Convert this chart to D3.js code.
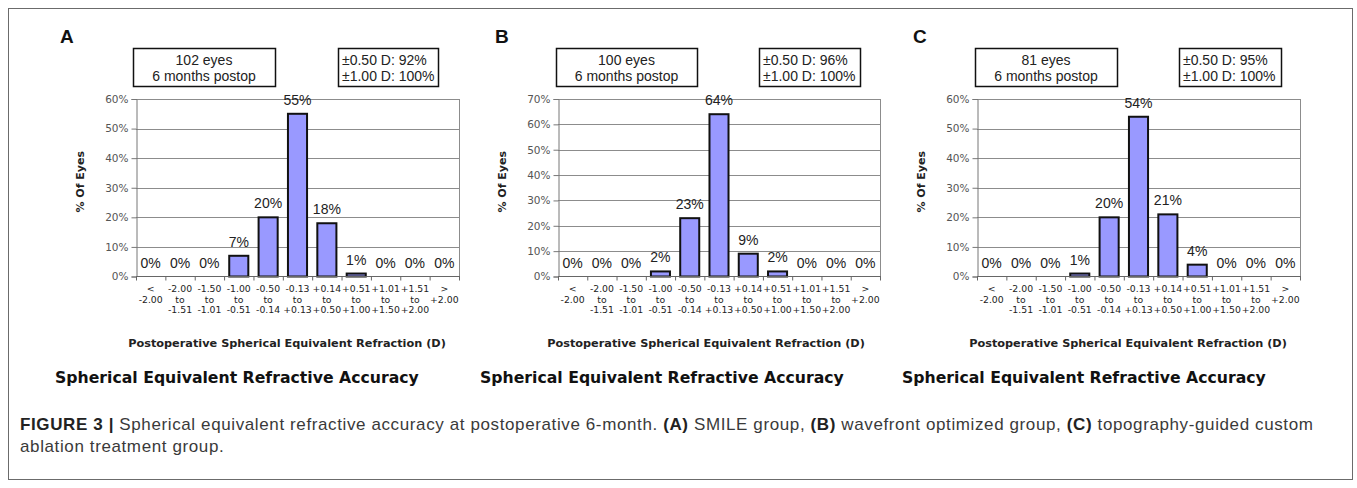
<!DOCTYPE html>
<html>
<head>
<meta charset="utf-8">
<script src="https://cdn.jsdelivr.net/npm/d3@7"></script>
<style>
  html, body { margin: 0; padding: 0; background: #fff; }
  svg { display: block; }
</style>
</head>
<body>
<svg id="chart" width="1357" height="488"></svg>
<script>
// ---------- DATA ----------
const categories = [
  ["<", "-2.00"],
  ["-2.00", "to", "-1.51"],
  ["-1.50", "to", "-1.01"],
  ["-1.00", "to", "-0.51"],
  ["-0.50", "to", "-0.14"],
  ["-0.13", "to", "+0.13"],
  ["+0.14", "to", "+0.50"],
  ["+0.51", "to", "+1.00"],
  ["+1.01", "to", "+1.50"],
  ["+1.51", "to", "+2.00"],
  [">", "+2.00"]
];
const panelLetters = ["A", "B", "C"];
const valuesA = [0, 0, 0, 7, 20, 55, 18, 1, 0, 0, 0];
const valuesB = [0, 0, 0, 2, 23, 64, 9, 2, 0, 0, 0];
const valuesC = [0, 0, 0, 1, 20, 54, 21, 4, 0, 0, 0];
const yTicksA = [0, 10, 20, 30, 40, 50, 60];
const yTicksB = [0, 10, 20, 30, 40, 50, 60, 70];
const yTicksC = [0, 10, 20, 30, 40, 50, 60];
const eyesText = ["102 eyes", "100 eyes", "81 eyes"];
const postopText = "6 months postop";
const within050 = ["\u00b10.50 D: 92%", "\u00b10.50 D: 96%", "\u00b10.50 D: 95%"];
const within100 = ["\u00b11.00 D: 100%", "\u00b11.00 D: 100%", "\u00b11.00 D: 100%"];
const yAxisTitle = "% Of Eyes";
const xAxisTitle = "Postoperative Spherical Equivalent Refraction (D)";
const panelTitle = "Spherical Equivalent Refractive Accuracy";

// ---------- LAYOUT ----------
const layouts = [
  { plotL: 136, plotR: 459, letterX: 60, box1: [133, 275], box2: [338, 438], xTitleC: 287, titleX: 55 },
  { plotL: 558, plotR: 880, letterX: 495, box1: [556, 697], box2: [759, 860], xTitleC: 706, titleX: 480 },
  { plotL: 977, plotR: 1300, letterX: 913, box1: [975, 1117], box2: [1179, 1281], xTitleC: 1128, titleX: 902 }
];
const allValues = [valuesA, valuesB, valuesC];
const allTicks = [yTicksA, yTicksB, yTicksC];
const plotTop = 99, plotBottom = 276.5;

const svg = d3.select("#chart");

// outer frame
svg.append("rect").attr("x", 8.5).attr("y", 8.5).attr("width", 1344).attr("height", 471)
  .attr("fill", "none").attr("stroke", "#6b6b6b").attr("stroke-width", 1);

function fitWidth(sel, target) {
  const w = sel.node().getComputedTextLength();
  const fs = parseFloat(sel.attr("font-size"));
  sel.attr("font-size", (fs * target / w).toFixed(2));
}

layouts.forEach((L, p) => {
  const vals = allValues[p];
  const ticks = allTicks[p];
  const g = svg.append("g");

  const x = d3.scaleBand().domain(d3.range(categories.length))
    .range([L.plotL, L.plotR]).paddingInner(0.35).paddingOuter(0.175);
  const y = d3.scaleLinear().domain([0, d3.max(ticks)]).range([plotBottom, plotTop]);
  const step = x.step();

  // panel letter
  g.append("text").attr("x", L.letterX).attr("y", 43)
    .attr("font-family", "Liberation Sans, Arial, sans-serif").attr("font-weight", "bold")
    .attr("font-size", 19).attr("fill", "#111").text(panelLetters[p]);

  // info boxes
  const boxY = 48.5, boxH = 38;
  g.append("rect").attr("x", L.box1[0] + 0.5).attr("y", boxY).attr("width", L.box1[1] - L.box1[0]).attr("height", boxH)
    .attr("fill", "#fff").attr("stroke", "#111").attr("stroke-width", 1.5);
  const cx = (L.box1[0] + L.box1[1]) / 2;
  [eyesText[p], postopText].forEach((t, i) => {
    g.append("text").attr("x", cx).attr("y", 65 + i * 16).attr("text-anchor", "middle")
      .attr("font-family", "Liberation Sans, Arial, sans-serif").attr("font-size", 14)
      .attr("fill", "#222").text(t);
  });
  g.append("rect").attr("x", L.box2[0] + 0.5).attr("y", boxY).attr("width", L.box2[1] - L.box2[0]).attr("height", boxH)
    .attr("fill", "#fff").attr("stroke", "#111").attr("stroke-width", 1.5);
  [within050[p], within100[p]].forEach((t, i) => {
    g.append("text").attr("x", L.box2[0] + 4).attr("y", 65 + i * 16)
      .attr("font-family", "Liberation Sans, Arial, sans-serif").attr("font-size", 14)
      .attr("fill", "#222").text(t);
  });

  // gridlines
  g.append("g").selectAll("line").data(ticks.filter(t => t > 0)).join("line")
    .attr("x1", L.plotL).attr("x2", L.plotR)
    .attr("y1", d => Math.round(y(d)) + 0.5).attr("y2", d => Math.round(y(d)) + 0.5)
    .attr("stroke", "#8c8c8c").attr("stroke-width", 1);
  // plot border right
  g.append("line").attr("x1", L.plotR + 0.5).attr("x2", L.plotR + 0.5).attr("y1", y(d3.max(ticks))).attr("y2", plotBottom)
    .attr("stroke", "#8c8c8c").attr("stroke-width", 1);

  // y axis
  const yAxis = d3.axisLeft(y).tickValues(ticks).tickFormat(d => d + "%").tickSize(5).tickPadding(3);
  const ya = g.append("g").attr("transform", `translate(${L.plotL + 0.5},0)`).call(yAxis);
  ya.select(".domain").attr("stroke", "#777");
  ya.selectAll(".tick line").attr("stroke", "#777");
  ya.selectAll(".tick text").attr("font-family", "DejaVu Sans, Verdana, sans-serif")
    .attr("font-size", 10.5).attr("fill", "#555");

  // bars
  g.append("g").selectAll("rect").data(vals).join("rect")
    .attr("x", (d, i) => x(i)).attr("width", x.bandwidth())
    .attr("y", d => y(d)).attr("height", d => plotBottom - y(d))
    .attr("fill", "#9999ff").attr("stroke", "#111").attr("stroke-width", 2)
    .style("display", d => d > 0 ? null : "none");

  // x axis line
  g.append("line").attr("x1", L.plotL).attr("x2", L.plotR + 1).attr("y1", plotBottom).attr("y2", plotBottom)
    .attr("stroke", "#666").attr("stroke-width", 1.2);
  // category boundary ticks
  g.append("g").selectAll("line").data(d3.range(categories.length + 1)).join("line")
    .attr("x1", i => L.plotL + i * step + 0.5).attr("x2", i => L.plotL + i * step + 0.5)
    .attr("y1", plotBottom).attr("y2", plotBottom + 4)
    .attr("stroke", "#666").attr("stroke-width", 1);

  // value labels
  g.append("g").selectAll("text").data(vals).join("text")
    .attr("x", (d, i) => x(i) + x.bandwidth() / 2).attr("y", d => y(d) - 9)
    .attr("text-anchor", "middle").attr("font-family", "Liberation Sans, Arial, sans-serif")
    .attr("font-size", 14).attr("fill", "#222").text(d => d + "%");

  // category labels
  const cl = g.append("g").selectAll("text").data(categories).join("text")
    .attr("text-anchor", "middle").attr("font-family", "DejaVu Sans, Verdana, sans-serif")
    .attr("font-size", 9.3).attr("fill", "#222");
  cl.each(function (lines, i) {
    const t = d3.select(this);
    lines.forEach((ln, k) => {
      t.append("tspan").attr("x", x(i) + x.bandwidth() / 2).attr("y", 292 + k * 10.5).text(ln);
    });
  });

  // y axis title
  g.append("text").attr("transform", `translate(${L.plotL - 52},${(plotTop + plotBottom) / 2 - 6}) rotate(-90)`)
    .attr("text-anchor", "middle").attr("font-family", "DejaVu Sans, Verdana, sans-serif")
    .attr("font-weight", "bold").attr("font-size", 11).attr("fill", "#222").text(yAxisTitle);

  // x axis title
  const xt = g.append("text").attr("x", L.xTitleC).attr("y", 347).attr("text-anchor", "middle")
    .attr("font-family", "DejaVu Sans, Verdana, sans-serif").attr("font-weight", "bold")
    .attr("font-size", 10).attr("fill", "#222").text(xAxisTitle);
  fitWidth(xt, 318);

  // panel title
  const pt = g.append("text").attr("x", L.titleX).attr("y", 383)
    .attr("font-family", "DejaVu Sans, Verdana, sans-serif").attr("font-weight", "bold")
    .attr("font-size", 14).attr("fill", "#111").text(panelTitle);
  fitWidth(pt, 364);
});

// caption
const capSize = 17;
const cap1 = svg.append("text").attr("x", 20).attr("y", 430)
  .attr("font-family", "Liberation Sans, Arial, sans-serif").attr("font-size", capSize).attr("fill", "#3a3a3a");
const capParts = [
  ["FIGURE 3 |", true], [" Spherical equivalent refractive accuracy at postoperative 6-month. ", false],
  ["(A)", true], [" SMILE group, ", false], ["(B)", true], [" wavefront optimized group, ", false],
  ["(C)", true], [" topography-guided custom", false]
];
capParts.forEach(([t, b]) => cap1.append("tspan").attr("font-weight", b ? "bold" : "normal")
  .attr("fill", b ? "#222" : "#3a3a3a").text(t));
{
  const w = cap1.node().getComputedTextLength();
  const n = capParts.map(d => d[0]).join("").length;
  const ls = Math.max(-0.5, Math.min(1.2, (1293 - w) / (n - 1)));
  cap1.attr("letter-spacing", ls.toFixed(3));
}
svg.append("text").attr("x", 20).attr("y", 452)
  .attr("font-family", "Liberation Sans, Arial, sans-serif").attr("font-size", capSize).attr("fill", "#3a3a3a")
  .attr("letter-spacing", cap1.attr("letter-spacing"))
  .text("ablation treatment group.");
</script>
</body>
</html>
